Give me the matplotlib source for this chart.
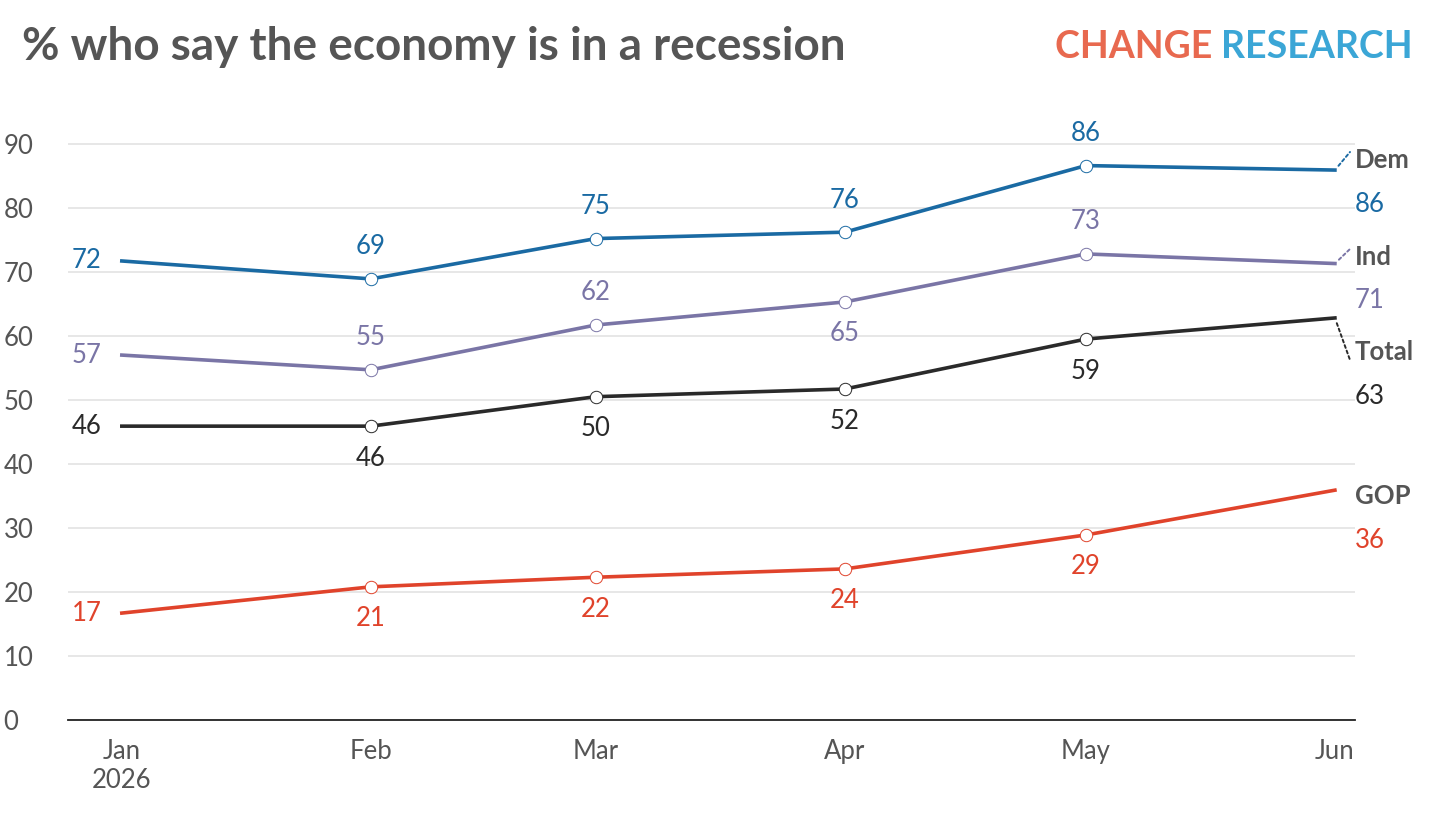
import matplotlib
matplotlib.use("Agg")
import matplotlib.pyplot as plt
import matplotlib.dates as mdates
import pandas as pd

plt.rcParams['font.family'] = ['Lato', 'DejaVu Sans']

months = pd.to_datetime(["2026-01-01", "2026-02-01", "2026-03-01", "2026-04-01", "2026-05-01", "2026-06-01"])
dem = [71.7, 68.9, 75.2, 76.2, 86.6, 85.9]
ind = [57.0, 54.7, 61.7, 65.3, 72.8, 71.3]
total = [45.9, 45.9, 50.5, 51.7, 59.5, 62.8]
gop = [16.7, 20.8, 22.3, 23.6, 28.9, 35.9]
dem_lbl = [72, 69, 75, 76, 86, 86]
ind_lbl = [57, 55, 62, 65, 73, 71]
total_lbl = [46, 46, 50, 52, 59, 63]
gop_lbl = [17, 21, 22, 24, 29, 36]

series = [
    # name, values, labels, colour, label side for Feb..May (-1 above, 1 below), end name y px, end value y px, connector
    ("Dem", dem, dem_lbl, "#1a6aa3", [-1, -1, -1, -1], 160, 204, True),
    ("Ind", ind, ind_lbl, "#7a75a6", [-1, -1, 1, -1], 257, 300, True),
    ("Total", total, total_lbl, "#2a2a2a", [1, 1, 1, 1], 352, 396, True),
    ("GOP", gop, gop_lbl, "#e0432b", [1, 1, 1, 1], 496, 540, False),
]

fig = plt.figure(figsize=(14.4, 8.22), dpi=100)
ax = fig.add_axes([68 / 1440, 102 / 822, (1355 - 68) / 1440, (720 - 99) / 822])
H = 822
FS = 18.5

ax.set_ylim(0, 97)
ax.set_xlim(months[0] - pd.Timedelta(days=6.7), months[-1] + pd.Timedelta(days=2.5))
ax.set_yticks(range(0, 100, 10))
ax.grid(axis='y', color='#e3e3e3', linewidth=1.2)
ax.set_axisbelow(True)
for s in ['top', 'right', 'left']:
    ax.spines[s].set_visible(False)
ax.spines['bottom'].set_color('#222222')
ax.spines['bottom'].set_linewidth(1.3)
ax.tick_params(axis='y', length=0, labelsize=FS, labelcolor='#555555', pad=12)
ax.tick_params(axis='x', length=0, labelsize=FS, labelcolor='#555555', pad=14)
ax.set_xticks(months)
ax.set_xticklabels(["Jan\n2026", "Feb", "Mar", "Apr", "May", "Jun"])
for lab in ax.get_yticklabels():
    lab.set_horizontalalignment('left')
    lab.set_x(-0.037)

for name, vals, lbls, col, sides, ny, vy, conn in series:
    ax.plot(months, vals, color=col, linewidth=2.6, zorder=3)
    ax.scatter(months[1:5], vals[1:5], s=80, facecolor='white', edgecolor=col, linewidth=0.7, zorder=4)
    ax.annotate(str(lbls[0]), (months[0], vals[0]), xytext=(-20, 0), textcoords='offset pixels',
                ha='right', va='center', fontsize=FS, color=col)
    for i, sd in zip(range(1, 5), sides):
        ax.annotate(str(lbls[i]), (months[i], vals[i]), xytext=(0, -32 * sd), textcoords='offset pixels',
                    ha='center', va='center', fontsize=FS, color=col)
    # end labels
    fig.text(1355 / 1440, 1 - ny / H, name, ha='left', va='center', fontsize=FS,
             fontweight='bold', color='#555555')
    fig.text(1355 / 1440, 1 - vy / H, str(lbls[-1]), ha='left', va='center', fontsize=FS, color=col)
    if conn:
        end_px = ax.transData.transform((mdates.date2num(months[-1]), vals[-1]))
        target_y = H - ny - 8 if (H - ny) < end_px[1] else H - ny + 8
        ax.annotate("", xy=(1350, target_y), xycoords='figure pixels',
                    xytext=end_px, textcoords='figure pixels',
                    arrowprops=dict(arrowstyle='-', linestyle=(0, (1.5, 1.5)), color=col, lw=1.4,
                                    shrinkA=4, shrinkB=0))

fig.text(22 / 1440, 1 - 47 / H, "% who say the economy is in a recession", fontsize=33,
         fontweight='bold', color='#555555', va='center', ha='left')
t1 = fig.text(1055 / 1440, 1 - 47 / H, "CHANGE ", fontsize=27, fontweight='bold',
              color='#e8694f', va='center', ha='left')
fig.canvas.draw()
bb = t1.get_window_extent()
fig.text(bb.x1 / 1440, 1 - 47 / H, "RESEARCH", fontsize=27, fontweight='bold',
         color='#3ba6d6', va='center', ha='left')

fig.savefig("out.png", dpi=100)
